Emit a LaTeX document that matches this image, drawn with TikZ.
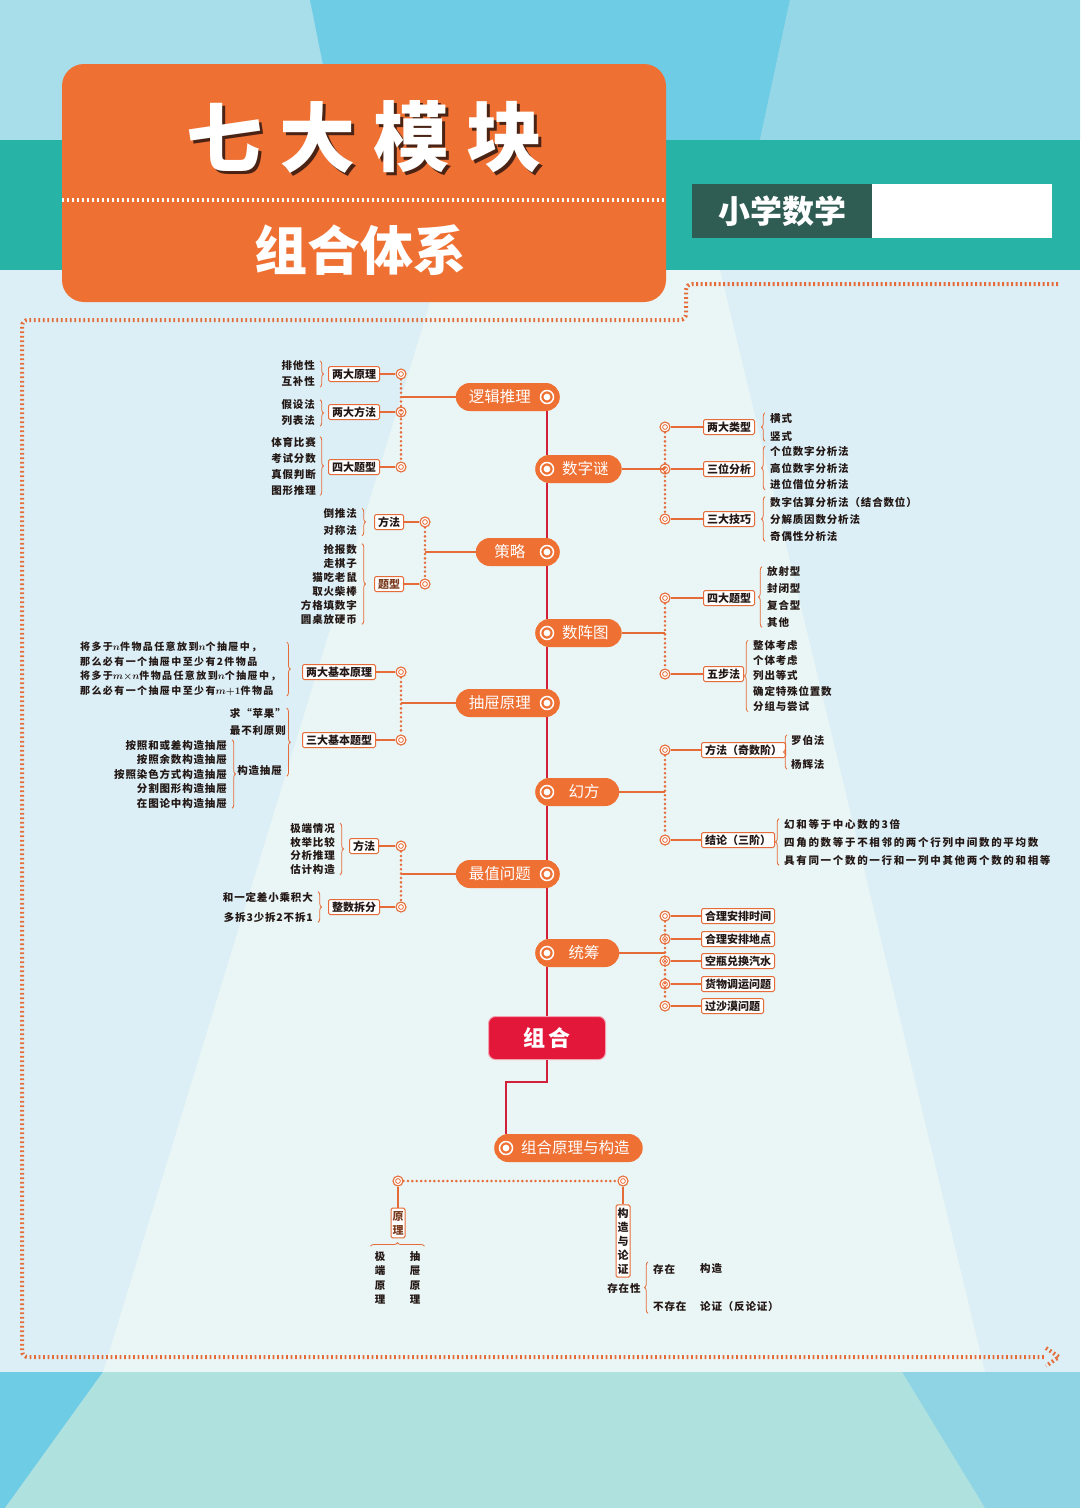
\documentclass[tikz,border=0pt]{standalone}
\usepackage{amsmath}
\usepackage{fontspec}
\setmainfont{Noto Sans CJK SC}
\newfontfamily\leaffont[LetterSpace=8]{Noto Sans CJK SC}
\usepackage{xcolor}
\usetikzlibrary{positioning,decorations.pathreplacing}

\definecolor{orng}{HTML}{EE7033}
\definecolor{twigc}{HTML}{E56C38}
\definecolor{trunkc}{HTML}{D2203A}
\definecolor{ink}{HTML}{231815}
\definecolor{brownc}{HTML}{7A3B1E}
\definecolor{shade}{HTML}{4A2315}
\definecolor{bgA}{HTML}{A8DDEA}
\definecolor{bgB}{HTML}{6ECCE5}
\definecolor{bgC}{HTML}{95D6E7}
\definecolor{tealc}{HTML}{27B3A6}
\definecolor{mist}{HTML}{DCEFF6}
\definecolor{haze}{HTML}{EAF5F5}
\definecolor{seaA}{HTML}{6FCCE5}
\definecolor{seaB}{HTML}{8FD4E5}
\definecolor{seaC}{HTML}{AFE1DF}
\definecolor{pinegreen}{HTML}{2F5D54}
\definecolor{zuhered}{HTML}{E3173A}

\begin{document}
\begin{tikzpicture}[x=1pt, y=-1pt,
  headbox/.style={fill=orng, rounded corners=22pt, minimum width=604pt, minimum height=238pt, inner sep=0pt},
  titlech/.style={inner sep=0pt, font=\fontsize{76}{76}\selectfont\bfseries},
  pill/.style={fill=orng, text=white, rounded corners=14pt, minimum height=28pt, minimum width=84pt, inner xsep=13pt, inner ysep=0pt, font=\fontsize{15.5}{15.5}\selectfont},
  hub/.style={circle, draw=white, line width=1.5pt, fill=orng, minimum size=13pt, inner sep=0pt, path picture={\fill[white] (path picture bounding box.center) circle (3.4pt);}},
  knot/.style={circle, draw=twigc, line width=1.1pt, fill=white, minimum size=10pt, inner sep=0pt, path picture={\draw[twigc, line width=0.8pt] (path picture bounding box.center) circle (2.4pt);}},
  tag/.style={draw=twigc, line width=1pt, fill=white, rounded corners=1.5pt, inner xsep=3.5pt, inner ysep=1.5pt, minimum height=15pt, text=ink, font=\fontsize{11}{12}\selectfont\bfseries},
  vtag/.style={tag, align=center, inner xsep=1.5pt, inner ysep=3pt, font=\fontsize{11}{14}\selectfont\bfseries},
  leaf/.style={text=ink, inner sep=0pt, font=\leaffont\bfseries\fontsize{10.5}{#1}\selectfont},
  leaf/.default=16,
  brace/.style={draw=twigc, line width=0.8pt, decorate, decoration={brace, amplitude=3.5pt}},
  twig/.style={draw=twigc, line width=1.3pt},
  dots/.style={draw=twigc, line width=2.8pt, dash pattern=on 0pt off 4.4pt, line cap=round},
  trunk/.style={draw=trunkc, line width=2pt},
  frame/.style={draw=twigc, line width=4pt, dash pattern=on 1.8pt off 2.7pt}
]
\useasboundingbox (0,0) rectangle (1080,1508);

\fill[bgA] (0,0) rectangle (1080,1508);
\fill[bgB] (310,0) -- (790,0) -- (760,140) -- (338,140) -- cycle;
\fill[bgC] (790,0) -- (1080,0) -- (1080,140) -- (760,140) -- cycle;
\fill[tealc] (0,140) rectangle (1080,270);
\fill[mist] (0,270) rectangle (1080,1372);
\fill[haze] (440,270) -- (720,270) -- (985,1372) -- (103,1372) -- cycle;
\fill[seaB] (0,1372) rectangle (1080,1508);
\fill[seaA] (0,1372) -- (103,1372) -- (5,1508) -- (0,1508) -- cycle;
\fill[seaC] (103,1372) -- (902,1372) -- (985,1508) -- (5,1508) -- cycle;

\draw[frame, rounded corners=6pt] (1058,284) -- (686,284) -- (686,320) -- (22,320) -- (22,1357) -- (1045,1357);
\draw[frame] (1046,1348) -- (1059,1357) -- (1046,1366);

\node[headbox] (head) at (364,183) {};
\foreach \ch/\cx in {七/224,大/317,模/411,块/504} {
  \node[titlech, text=shade] (sh\cx) at (\cx+3,140) {\ch};
  \node[titlech, text=white] (ti\cx) at (\cx,137) {\ch};
}
\draw[white, line width=4pt, dash pattern=on 2.5pt off 2.5pt] ([yshift=-17pt]head.west) -- ([yshift=-17pt]head.east);
\node[text=white, inner sep=0pt, font=\fontsize{53}{53}\selectfont\bfseries] (tixi) at (360,250) {组合体系};
\node[fill=pinegreen, text=white, minimum width=180pt, minimum height=54pt, inner sep=0pt, font=\fontsize{32}{32}\selectfont\bfseries] (xiaoxue) at (782,211) {小学数学};
\node[fill=white, minimum width=180pt, minimum height=54pt, inner sep=0pt, anchor=west] (blank) at (xiaoxue.east) {};

\node[pill, anchor=east] (logic) at (560,397) {逻辑推理\hspace{16pt}\null};
\node[hub] (logichub) at ([xshift=-13pt]logic.east) {};
\node[pill, anchor=west] (mi) at (535,469) {\hspace{14pt}数字谜};
\node[hub] (mihub) at ([xshift=12pt]mi.west) {};
\node[pill, anchor=east] (ce) at (560,552) {策略\hspace{16pt}\null};
\node[hub] (cehub) at ([xshift=-13pt]ce.east) {};
\node[pill, anchor=west] (zhen) at (535,633) {\hspace{14pt}数阵图};
\node[hub] (zhenhub) at ([xshift=12pt]zhen.west) {};
\node[pill, anchor=east] (chou) at (560,703) {抽屉原理\hspace{16pt}\null};
\node[hub] (chouhub) at ([xshift=-13pt]chou.east) {};
\node[pill, anchor=west] (huan) at (535,792) {\hspace{14pt}幻方};
\node[hub] (huanhub) at ([xshift=12pt]huan.west) {};
\node[pill, anchor=east] (zui) at (560,874) {最值问题\hspace{16pt}\null};
\node[hub] (zuihub) at ([xshift=-13pt]zui.east) {};
\node[pill, anchor=west] (tong) at (535,953) {\hspace{14pt}统筹};
\node[hub] (tonghub) at ([xshift=12pt]tong.west) {};
\node[fill=zuhered, draw=white!60!zuhered, line width=1pt, rounded corners=7pt, minimum width=117pt, minimum height=43pt, text=white, font=\fontsize{22}{22}\selectfont\bfseries] (zuhe) at (547,1038) {组\hspace{4pt}合};
\node[pill, anchor=west] (yuanli) at (494,1148) {\hspace{14pt}组合原理与构造};
\node[hub] (yuanlihub) at ([xshift=12pt]yuanli.west) {};

\draw[trunk] (logichub |- logic.south) -- (mihub |- mi.north);
\draw[trunk] (mihub |- mi.south) -- (cehub |- ce.north);
\draw[trunk] (cehub |- ce.south) -- (zhenhub |- zhen.north);
\draw[trunk] (zhenhub |- zhen.south) -- (chouhub |- chou.north);
\draw[trunk] (chouhub |- chou.south) -- (huanhub |- huan.north);
\draw[trunk] (huanhub |- huan.south) -- (zuihub |- zui.north);
\draw[trunk] (zuihub |- zui.south) -- (tonghub |- tong.north);
\draw[trunk] (tonghub |- tong.south) -- (zuhe.north);
\draw[trunk] (zuhe.south) -- ++(0,22) -| (yuanlihub |- yuanli.north);

\node[knot] (k11) at (401,374) {};
\node[knot] (k12) at (401,412) {};
\node[knot] (k13) at (401,467) {};
\node[tag, anchor=east] (t11) at (380,374) {两大原理};
\node[tag, anchor=east] (t12) at (380,412) {两大方法};
\node[tag, anchor=east] (t13) at (380,467) {四大题型};
\draw[twig] (logic.west) -- (logic.west -| k11);
\draw[dots] (k11.south) -- (k13.north);
\draw[twig] (k11.west) -- (t11.east);
\draw[twig] (k12.west) -- (t12.east);
\draw[twig] (k13.west) -- (t13.east);
\node[leaf=16, align=right, anchor=east] (L11) at (315,374) {排他性\\互补性};
\node[leaf=16, align=right, anchor=east] (L12) at (315,413) {假设法\\列表法};
\node[leaf=16, align=right, anchor=east] (L13) at (316,466) {体育比赛\\考试分数\\真假判断\\图形推理};
\draw[brace] ([xshift=5pt]L11.north east) -- ([xshift=5pt]L11.south east);
\draw[brace] ([xshift=5pt]L12.north east) -- ([xshift=5pt]L12.south east);
\draw[brace] ([xshift=4pt]L13.north east) -- ([xshift=4pt]L13.south east);

\node[knot] (k21) at (665,427) {};
\node[knot] (k22) at (665,469) {};
\node[knot] (k23) at (665,519) {};
\node[tag, anchor=west] (t21) at (703,427) {两大类型};
\node[tag, anchor=west] (t22) at (703,469) {三位分析};
\node[tag, anchor=west] (t23) at (703,519) {三大技巧};
\draw[twig] (mi.east) -- (mi.east -| k22);
\draw[dots] (k21.south) -- (k23.north);
\draw[twig] (k21.east) -- (t21.west);
\draw[twig] (k22.east) -- (t22.west);
\draw[twig] (k23.east) -- (t23.west);
\node[leaf=18, align=left, anchor=west] (L21) at (770,427) {横式\\竖式};
\node[leaf=16.5, align=left, anchor=west] (L22) at (770,468) {个位数字分析法\\高位数字分析法\\进位借位分析法};
\node[leaf=17, align=left, anchor=west] (L23) at (770,519) {数字估算分析法（结合数位）\\分解质因数分析法\\奇偶性分析法};
\draw[brace] ([xshift=-5pt]L21.south west) -- ([xshift=-5pt]L21.north west);
\draw[brace] ([xshift=-5pt]L22.south west) -- ([xshift=-5pt]L22.north west);
\draw[brace] ([xshift=-5pt]L23.south west) -- ([xshift=-5pt]L23.north west);

\node[knot] (k31) at (425,522) {};
\node[knot] (k32) at (425,584) {};
\node[tag, anchor=east] (t31) at (404,522) {方法};
\node[tag, anchor=east, text=brownc] (t32) at (404,584) {题型};
\draw[twig] (ce.west) -- (ce.west -| k31);
\draw[dots] (k31.south) -- (k32.north);
\draw[twig] (k31.west) -- (t31.east);
\draw[twig] (k32.west) -- (t32.east);
\node[leaf=17, align=right, anchor=east] (L31) at (357,522) {倒推法\\对称法};
\node[leaf=14, align=right, anchor=east] (L32) at (357,584) {抢报数\\走棋子\\猫吃老鼠\\取火柴棒\\方格填数字\\圆桌放硬币};
\draw[brace] ([xshift=5pt]L31.north east) -- ([xshift=5pt]L31.south east);
\draw[brace] ([xshift=5pt]L32.north east) -- ([xshift=5pt]L32.south east);

\node[knot] (k41) at (665,598) {};
\node[knot] (k42) at (665,674) {};
\node[tag, anchor=west] (t41) at (703,598) {四大题型};
\node[tag, anchor=west] (t42) at (703,674) {五步法};
\draw[twig] (zhen.east) -- (zhen.east -| k41);
\draw[dots] (k41.south) -- (k42.north);
\draw[twig] (k41.east) -- (t41.west);
\draw[twig] (k42.east) -- (t42.west);
\node[leaf=16.7, align=left, anchor=west] (L41) at (767,597) {放射型\\封闭型\\复合型\\其他};
\node[leaf=15.2, align=left, anchor=west] (L42) at (753,676) {整体考虑\\个体考虑\\列出等式\\确定特殊位置数\\分组与尝试};
\draw[brace] ([xshift=-5pt]L41.south west) -- ([xshift=-5pt]L41.north west);
\draw[brace] ([xshift=-5pt]L42.south west) -- ([xshift=-5pt]L42.north west);

\node[knot] (k51) at (401,672) {};
\node[knot] (k52) at (401,740) {};
\node[tag, anchor=east] (t51) at (376,672) {两大基本原理};
\node[tag, anchor=east] (t52) at (376,740) {三大基本题型};
\draw[twig] (chou.west) -- (chou.west -| k51);
\draw[dots] (k51.south) -- (k52.north);
\draw[twig] (k51.west) -- (t51.east);
\draw[twig] (k52.west) -- (t52.east);
\node[leaf=14.5, align=left, anchor=west, font=\leaffont\bfseries\addfontfeature{LetterSpace=14}\fontsize{10}{14.5}\selectfont] (L51) at (80,669) {将多于$\boldsymbol{n}$件物品任意放到$\boldsymbol{n}$个抽屉中，\\那么必有一个抽屉中至少有2件物品\\将多于$\boldsymbol{m{\times}n}$件物品任意放到$\boldsymbol{n}$个抽屉中，\\那么必有一个抽屉中至少有$\boldsymbol{m{+}1}$件物品};
\node[leaf=17, align=right, anchor=east] (L52) at (286,722) {求“苹果”\\最不利原则};
\node[leaf, anchor=east] (L53) at (282,771) {构造抽屉};
\node[leaf=14.5, align=right, anchor=east] (L54) at (227,774) {按照和或差构造抽屉\\按照余数构造抽屉\\按照染色方式构造抽屉\\分割图形构造抽屉\\在图论中构造抽屉};
\draw[brace] ([xshift=6pt]L51.north east) -- ([xshift=6pt]L51.south east);
\draw[brace] ([xshift=6pt]L51.east |- L52.north) -- ([xshift=6pt]L51.east |- L53.south);
\draw[brace] ([xshift=5pt]L54.north east) -- ([xshift=5pt]L54.south east);

\node[knot] (k61) at (665,750) {};
\node[knot] (k62) at (665,840) {};
\node[tag, anchor=west] (t61) at (701,750) {方法（奇数阶）};
\node[tag, anchor=west] (t62) at (701,840) {结论（三阶）};
\draw[twig] (huan.east) -- (huan.east -| k61);
\draw[dots] (k61.south) -- (k62.north);
\draw[twig] (k61.east) -- (t61.west);
\draw[twig] (k62.east) -- (t62.west);
\node[leaf=24, align=left, anchor=west] (L61) at (791,752) {罗伯法\\杨辉法};
\node[leaf=18, align=left, anchor=west, font=\leaffont\bfseries\addfontfeature{LetterSpace=16}\fontsize{10.5}{18}\selectfont] (L62) at (784,842) {幻和等于中心数的3倍\\四角的数等于不相邻的两个行列中间数的平均数\\具有同一个数的一行和一列中其他两个数的和相等};
\draw[brace] ([xshift=-4pt]L61.south west) -- ([xshift=-4pt]L61.north west);
\draw[brace] ([xshift=-5pt]L62.south west) -- ([xshift=-5pt]L62.north west);

\node[knot] (k71) at (401,846) {};
\node[knot] (k72) at (401,907) {};
\node[tag, anchor=east] (t71) at (379,846) {方法};
\node[tag, anchor=east] (t72) at (380,907) {整数拆分};
\draw[twig] (zui.west) -- (zui.west -| k71);
\draw[dots] (k71.south) -- (k72.north);
\draw[twig] (k71.west) -- (t71.east);
\draw[twig] (k72.west) -- (t72.east);
\node[leaf=13.7, align=right, anchor=east] (L71) at (335,849) {极端情况\\枚举比较\\分析推理\\估计构造};
\node[leaf=20, align=right, anchor=east] (L72) at (313,907) {和一定差小乘积大\\多拆3少拆2不拆1};
\draw[brace] ([xshift=5pt]L71.north east) -- ([xshift=5pt]L71.south east);
\draw[brace] ([xshift=5pt]L72.north east) -- ([xshift=5pt]L72.south east);

\foreach \i/\ty/\txt in {1/916/合理安排时间, 2/939/合理安排地点, 3/961/空瓶兑换汽水, 4/984/货物调运问题, 5/1006/过沙漠问题} {
  \node[knot] (k8\i) at (665,\ty) {};
  \node[tag, anchor=west] (t8\i) at (701,\ty) {\txt};
  \draw[twig] (k8\i.east) -- (t8\i.west);
}
\draw[twig] (tong.east) -- (tong.east -| k83);
\draw[dots] (k81.south) -- (k85.north);

\node[knot] (k91) at (398,1181) {};
\node[knot] (k92) at (623,1181) {};
\draw[dots] (k91.east) -- (k92.west);
\node[vtag, text=brownc] (t91) at (398,1223) {原\\理};
\node[vtag] (t92) at (623,1241) {构\\造\\与\\论\\证};
\draw[twig] (k91.south) -- (t91.north);
\draw[twig] (k92.south) -- (t92.north);
\node[leaf=14.5, align=center] (L91) at (380,1278) {极\\端\\原\\理};
\node[leaf=14.5, align=center] (L92) at (415,1278) {抽\\屉\\原\\理};
\draw[brace] ([xshift=-4pt, yshift=5pt]L91.north west) -- ([xshift=4pt, yshift=5pt]L92.north east);
\node[leaf] (L93) at (624,1288) {存在性};
\node[leaf, anchor=west] (L94) at (653,1269) {存在};
\node[leaf, anchor=west] (L95) at (700,1269) {构造};
\node[leaf, anchor=west] (L96) at (653,1306) {不存在};
\node[leaf, anchor=west] (L97) at (700,1306) {论证（反论证）};
\draw[brace] ([xshift=-5pt, yshift=-2pt]L96.south west) -- ([xshift=-5pt, yshift=2pt]L94.north west);
\end{tikzpicture}
\end{document}
